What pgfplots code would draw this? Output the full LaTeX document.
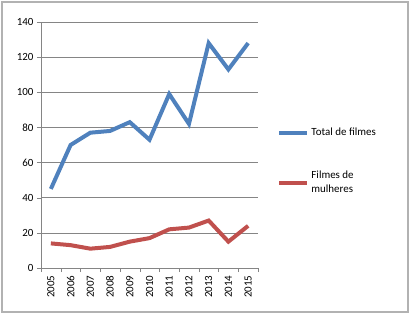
\documentclass[border=0pt]{standalone}
\usepackage{pgfplots}
\pgfplotsset{compat=1.18}
\usepackage{fontspec}
\setmainfont{Carlito}
\definecolor{sblue}{HTML}{4F81BD}
\definecolor{sred}{HTML}{C0504D}
\definecolor{gridc}{HTML}{858585}
\begin{document}
\begin{tikzpicture}[x=1bp,y=1bp]
\useasboundingbox (0,0) rectangle (410,314);
\draw[gray!60, line width=1.2bp] (2,2) rectangle (408,312);
\begin{axis}[
  at={(41bp,46bp)}, anchor=south west,
  scale only axis, width=217bp, height=246bp,
  xmin=-0.5, xmax=10.5, ymin=0, ymax=140,
  ytick={0,20,...,140},
  xtick={0,...,10},
  xticklabels={2005,2006,2007,2008,2009,2010,2011,2012,2013,2014,2015},
  x tick label style={rotate=90, anchor=east, font=\fontsize{11}{13}\selectfont},
  y tick label style={font=\fontsize{11}{13}\selectfont},
  /pgf/number format/assume math mode=true,
  minor xtick={-0.5,0.5,...,10.5},
  major x tick style={draw=none},
  minor x tick style={gridc},
  y tick style={gridc},
  tick align=outside,
  major tick length=4bp, minor tick length=4bp,
  axis lines*=left,
  axis line style={gridc},
  ymajorgrids, grid style={gridc, line width=0.7bp},
  legend cell align=left,
  legend style={draw=none, fill=none, at={(1.075,0.585)}, anchor=north west,
    font=\fontsize{11}{14}\selectfont, row sep=30bp,
    nodes={align=left, inner xsep=2bp}},
  legend image code/.code={\draw[#1, line width=4bp] (0bp,0bp) -- (28bp,0bp);},
]
\addplot[sblue, line width=4bp] coordinates {
(0,45) (1,70) (2,77) (3,78) (4,83) (5,73) (6,99) (7,82) (8,128) (9,113) (10,128)};
\addlegendentry{Total de filmes}
\addplot[sred, line width=4bp] coordinates {
(0,14) (1,13) (2,11) (3,12) (4,15) (5,17) (6,22) (7,23) (8,27) (9,15) (10,24)};
\addlegendentry{Filmes de\\mulheres}
\end{axis}
\end{tikzpicture}
\end{document}
